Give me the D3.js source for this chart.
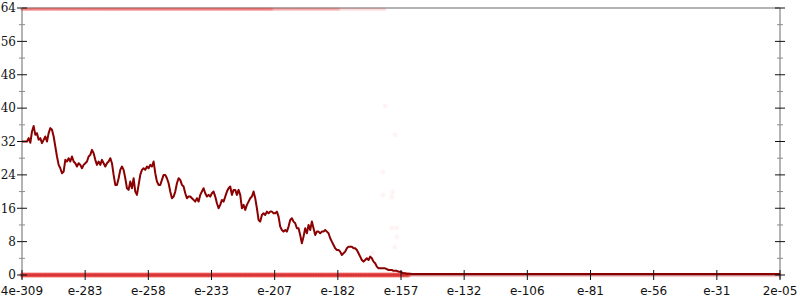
<!DOCTYPE html>
<html>
<head>
<meta charset="utf-8">
<script src="https://cdn.jsdelivr.net/npm/d3@7"></script>
<style>
  body { margin: 0; background: #fff; }
  svg { display: block; }
</style>
</head>
<body>
<svg id="chart" width="800" height="300"></svg>
<script>
const xTickLabels = ['4e-309', 'e-283', 'e-258', 'e-233', 'e-207', 'e-182', 'e-157',
  'e-132', 'e-106', 'e-81', 'e-56', 'e-31', '2e-05'];
const yTicks = [0, 8, 16, 24, 32, 40, 48, 56, 64];
const yMinorTicks = [4, 12, 20, 28, 36, 44, 52, 60];

// histogram counts per bin (left part, where the bulk is)
const countsHead = [
  32.0, 32.0, 32.0, 32.0, 32.8, 31.7, 34.4, 35.7, 33.6, 34.0, 32.4, 32.8, 31.6, 32.4, 33.2, 32.0,
  34.0, 35.2, 34.8, 33.2, 30.8, 28.4, 26.4, 25.6, 24.4, 24.8, 27.6, 27.2, 28.0, 27.2, 28.4, 27.2,
  26.8, 26.0, 26.8, 26.4, 25.6, 26.4, 26.8, 27.2, 28.4, 28.8, 30.0, 29.2, 27.6, 26.4, 27.2, 26.4,
  27.6, 26.8, 26.0, 26.8, 27.2,
  28.0, 26.8, 24.0, 21.6, 21.6, 23.2, 25.2, 26.0, 25.2, 23.2, 20.8, 20.4, 22.4, 20.8, 23.2, 20.0,
  19.2, 21.6, 24.0, 25.2, 25.6, 25.2, 26.0, 25.6, 26.4, 26.0, 27.2, 24.4, 22.4, 21.6, 21.6, 22.8,
  24.0, 24.0, 23.2, 22.0, 20.0, 18.4, 18.8, 20.0, 22.0, 23.2, 22.8, 21.6, 21.2, 19.6, 18.4, 18.8,
  18.8, 18.4, 18.0, 17.6, 18.4, 17.6, 19.2, 20.0, 20.8, 19.6, 18.8, 19.2,
  18.8, 19.6, 20.0, 18.8, 17.2, 16.0, 16.8, 18.0, 17.6, 18.8, 20.0, 20.8, 21.2, 19.2, 20.4, 20.4,
  19.2, 20.4, 19.2, 16.0, 16.8, 15.6, 16.8, 17.6, 18.4, 18.8, 20.0, 18.4, 16.0, 13.2, 12.8, 14.4,
  14.8, 14.4, 15.2, 14.8, 15.2, 15.2, 14.8, 14.8, 15.2, 14.0, 11.6, 10.8, 10.4, 10.8, 10.4, 11.6,
  13.2, 13.6, 12.8, 12.4,
  11.2, 11.2, 9.6, 7.6, 9.2, 11.2, 10.0, 12.0, 10.8, 12.8, 11.2, 9.6, 10.4, 10.4, 10.0, 10.4,
  10.4, 10.8, 10.4, 10.0, 8.8, 8.0, 7.2, 6.4, 6.0, 6.0, 5.6, 4.8, 5.2, 5.6, 6.4, 6.8,
  6.8, 6.8, 6.4, 6.4, 6.0, 5.2, 4.4, 3.6, 3.2, 3.6, 4.0, 3.6, 4.4, 4.0, 3.2, 2.8,
  2.0, 1.6, 1.6, 1.6, 1.6, 1.6, 1.4, 1.2, 1.2, 1.2, 1.0, 1.0, 1.0, 0.8, 0.8, 0.6,
  0.4, 0.4
];
// near-empty right part
const countsTail = [
  0.3, 0.3, 0.3, 0.25, 0.25, 0.25, 0.25, 0.25, 0.25, 0.25, 0.25, 0.25, 0.25, 0.25, 0.25, 0.25, 0.25, 0.25, 0.25, 0.25, 0.25, 0.25, 0.25, 0.25, 0.25,
  0.25, 0.25, 0.25, 0.25, 0.25, 0.25, 0.25, 0.25, 0.25, 0.25, 0.25, 0.25, 0.25, 0.25, 0.25, 0.25, 0.25, 0.25, 0.25, 0.25, 0.25, 0.25, 0.25, 0.25, 0.25,
  0.25, 0.25, 0.25, 0.25, 0.25, 0.25, 0.25, 0.25, 0.25, 0.25, 0.25, 0.25, 0.25, 0.25, 0.25, 0.25, 0.25, 0.25, 0.25, 0.25, 0.25, 0.25, 0.25, 0.25, 0.25,
  0.25, 0.25, 0.25, 0.25, 0.25, 0.25, 0.25, 0.25, 0.25, 0.25, 0.25, 0.25, 0.25, 0.25, 0.25, 0.25, 0.25, 0.25, 0.25, 0.25, 0.25, 0.25, 0.25, 0.25, 0.25,
  0.25, 0.25, 0.25, 0.25, 0.25, 0.25, 0.25, 0.25, 0.25, 0.25, 0.25, 0.25, 0.25, 0.25, 0.25, 0.25, 0.25, 0.25, 0.25, 0.25, 0.25, 0.25, 0.25, 0.25, 0.25,
  0.25, 0.25, 0.25, 0.25, 0.25, 0.25, 0.25, 0.25, 0.25, 0.25, 0.25, 0.25, 0.25, 0.25, 0.25, 0.25, 0.25, 0.25, 0.25, 0.25, 0.25, 0.25, 0.25, 0.25, 0.25,
  0.25, 0.25, 0.25, 0.25, 0.25, 0.25, 0.25, 0.25, 0.25, 0.25, 0.25, 0.25, 0.25, 0.25, 0.25, 0.25, 0.25, 0.25, 0.25, 0.25, 0.25, 0.25, 0.25, 0.25, 0.25,
  0.25, 0.25, 0.25, 0.25, 0.25, 0.25, 0.25, 0.25, 0.25, 0.25, 0.25, 0.25, 0.25, 0.25, 0.25, 0.25, 0.25, 0.25, 0.25, 0.25, 0.25, 0.25, 0.25, 0.25, 0.25,
  0.25, 0.25, 0.25, 0.25, 0.25, 0.25, 0.25, 0.25, 0.25, 0.25, 0.25, 0.25, 0.25, 0.25, 0.25, 0.25, 0.25, 0.25, 0.25, 0.25, 0.25, 0.25, 0.25, 0.25, 0.25
];
const counts = countsHead.concat(countsTail);

// raw samples: [firstBin, lastBin, value] bands of points pinned at the ceiling / floor
// (later bands are sparser, so drawn fainter)
const ceilingSamples = [[0, 150, 63.7], [151, 190, 63.7], [191, 218, 63.7]];
const floorSamples = [[0, 232, 0], [233, 455, 0]];
// a few stray samples around the drop-off: [bin, value]
const straySamples = [[216.6, 19.2], [222.6, 19.9], [222, 18.7], [222, 11.3], [225, 11.3],
  [225, 9.1], [223.8, 6.7], [210.6, 5.3], [218, 40.5], [224, 33.6], [216.6, 24.7]];

const svg = d3.select('#chart');
const plotLeft = 22;
const plotRight = 780;
const plotTop = 8;
const plotBottom = 275;

const x = d3.scaleLinear().domain([0, counts.length - 1]).range([plotLeft, plotRight]);
const y = d3.scaleLinear().domain([0, 64]).range([plotBottom, plotTop]);
const xTickBins = xTickLabels.map((d, i) => i * (counts.length - 1) / (xTickLabels.length - 1));

// frame
svg.append('g')
  .attr('stroke', '#b4b4b4')
  .attr('stroke-width', 2)
  .call(g => {
    g.append('line').attr('x1', plotLeft).attr('x2', plotRight).attr('y1', plotTop).attr('y2', plotTop);
    g.append('line').attr('x1', plotLeft).attr('x2', plotRight).attr('y1', plotBottom).attr('y2', plotBottom);
    g.append('line').attr('x1', plotLeft).attr('x2', plotLeft).attr('y1', plotTop).attr('y2', plotBottom + 4);
    g.append('line').attr('x1', plotRight).attr('x2', plotRight).attr('y1', plotTop).attr('y2', plotBottom + 4);
  });

// sample points
const dots = svg.append('g');
const bandPoints = (bands) => bands.map(([a, b, v]) => d3.range(a, b + 1).map(i => [i, v]));

const ceilOpacity = [0.26, 0.16, 0.07];
bandPoints(ceilingSamples).forEach((pts, k) => {
  dots.append('g').attr('fill', '#e60000').attr('fill-opacity', ceilOpacity[k])
    .selectAll('circle').data(pts).join('circle')
    .attr('cx', d => x(d[0])).attr('cy', d => y(d[1])).attr('r', 1.8);
});

const floorOpacity = [0.45, 0.12];
const floorRadius = [2.5, 2.2];
bandPoints(floorSamples).forEach((pts, k) => {
  dots.append('g').attr('fill', '#e31a1a').attr('fill-opacity', floorOpacity[k])
    .selectAll('circle').data(pts).join('circle')
    .attr('cx', d => x(d[0])).attr('cy', d => y(d[1])).attr('r', floorRadius[k]);
});

dots.append('g').attr('fill', '#ff3030').attr('fill-opacity', 0.05)
  .selectAll('circle').data(straySamples).join('circle')
  .attr('cx', d => x(d[0])).attr('cy', d => y(d[1])).attr('r', 2.5);

// histogram line
const line = d3.line()
  .x((d, i) => x(i))
  .y(d => y(d));

svg.append('path')
  .datum(counts)
  .attr('fill', 'none')
  .attr('stroke', '#8b0000')
  .attr('stroke-width', 2)
  .attr('stroke-linejoin', 'round')
  .attr('d', line);

// y ticks on both sides
const ticks = svg.append('g');
[plotLeft, plotRight].forEach(xp => {
  ticks.append('g').selectAll('line').data(yMinorTicks).join('line')
    .attr('x1', xp - 3).attr('x2', xp + 3)
    .attr('y1', d => y(d)).attr('y2', d => y(d))
    .attr('stroke', '#8c8c8c').attr('stroke-width', 1);
  ticks.append('g').selectAll('line').data(yTicks).join('line')
    .attr('x1', xp - 5).attr('x2', xp + 5)
    .attr('y1', d => y(d)).attr('y2', d => y(d))
    .attr('stroke', '#111').attr('stroke-width', 1);
});

svg.append('g').selectAll('text').data(yTicks).join('text')
  .attr('x', plotLeft - 6)
  .attr('y', d => y(d))
  .attr('dy', '0.36em')
  .attr('text-anchor', 'end')
  .style('font-family', '"DejaVu Serif", serif')
  .style('font-size', '12px')
  .style('fill', '#111')
  .text(d => d);

// x ticks
ticks.append('g').selectAll('line').data(xTickBins).join('line')
  .attr('x1', d => x(d)).attr('x2', d => x(d))
  .attr('y1', plotBottom - 5).attr('y2', plotBottom + 5)
  .attr('stroke', '#111').attr('stroke-width', 1);

svg.append('g').selectAll('text').data(xTickLabels).join('text')
  .attr('x', (d, i) => x(xTickBins[i]))
  .attr('y', 295)
  .attr('text-anchor', 'middle')
  .style('font-family', '"DejaVu Sans", sans-serif')
  .style('font-size', '12px')
  .style('fill', '#111')
  .text(d => d);
</script>
</body>
</html>
